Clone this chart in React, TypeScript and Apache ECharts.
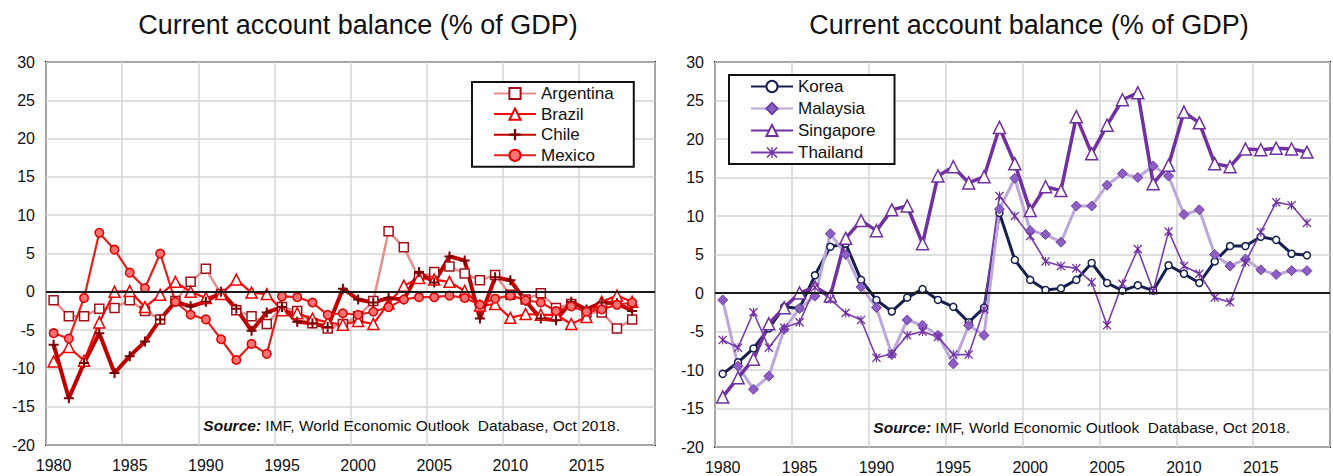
import React, { useEffect, useRef } from "react";
import * as echarts from "echarts";

// Categories (1980–2019; the last slot has no data, as in the reference axis)
const years = [
  "1980","1981","1982","1983","1984","1985","1986","1987","1988","1989",
  "1990","1991","1992","1993","1994","1995","1996","1997","1998","1999",
  "2000","2001","2002","2003","2004","2005","2006","2007","2008","2009",
  "2010","2011","2012","2013","2014","2015","2016","2017","2018","2019",
];

const titleText = "Current account balance (% of GDP)";
const sourceText = "{b|Source:} IMF, World Economic Outlook  Database, Oct 2018.";

// Left chart (Latin America), 1980–2018
const argentina = [
  -1.1, -3.2, -3.2, -2.2, -2.1, -1.1, -2.5, -3.6, -1.2, 1.3,
  3.0, -0.3, -2.4, -3.2, -4.2, -2.0, -2.5, -4.1, -4.8, -4.2,
  -3.2, -1.2, 7.9, 5.8, 1.8, 2.6, 3.3, 2.4, 1.5, 2.2,
  -0.4, -1.0, -0.2, -2.1, -1.6, -2.7, -2.7, -4.8, -3.6,
];
const brazil = [
  -9.1, -7.2, -9.0, -4.0, 0.0, 0.1, -2.0, -0.4, 1.3, 0.0,
  -0.8, -0.3, 1.6, -0.1, -0.3, -2.4, -2.8, -3.5, -4.0, -4.3,
  -3.8, -4.2, -1.5, 0.8, 1.8, 1.6, 1.3, 0.1, -1.8, -1.6,
  -3.4, -2.9, -3.0, -3.0, -4.2, -3.3, -1.3, -0.5, -1.3,
];
const chile = [
  -6.9, -13.9, -9.3, -5.4, -10.6, -8.4, -6.5, -3.6, -1.3, -1.9,
  -1.3, 0.0, -2.2, -5.1, -2.7, -2.0, -3.9, -4.1, -4.6, 0.4,
  -1.0, -1.4, -0.8, -1.0, 2.6, 1.2, 4.6, 4.1, -3.5, 1.9,
  1.5, -1.2, -3.5, -3.7, -1.3, -2.3, -1.4, -1.5, -2.5,
];
const mexico = [
  -5.4, -6.1, -0.8, 7.7, 5.5, 2.5, 0.5, 5.0, -1.3, -3.0,
  -3.6, -6.2, -8.9, -6.8, -8.1, -0.6, -0.7, -1.4, -3.0, -2.8,
  -3.0, -2.6, -2.0, -1.0, -0.7, -0.7, -0.5, -0.8, -1.7, -0.9,
  -0.5, -1.1, -1.4, -2.5, -1.9, -2.6, -2.3, -1.7, -1.4,
];

// Right chart (East Asia), 1980–2018
const korea = [
  -10.5, -9.0, -7.2, -4.6, -1.8, -2.0, 2.3, 6.0, 6.4, 1.7,
  -0.9, -2.4, -0.6, 0.5, -0.9, -1.8, -3.8, -1.9, 10.4, 4.3,
  1.7, 0.4, 0.6, 1.7, 3.9, 1.3, 0.3, 1.0, 0.3, 3.6,
  2.5, 1.3, 4.1, 6.1, 6.1, 7.3, 6.9, 5.1, 4.9,
];
const malaysia = [
  -0.9, -9.5, -12.5, -10.8, -4.7, -2.0, -0.4, 7.7, 5.0, 0.8,
  -1.9, -8.0, -3.5, -4.2, -5.5, -9.2, -4.2, -5.5, 10.9, 14.9,
  8.1, 7.6, 6.6, 11.3, 11.3, 14.0, 15.5, 15.0, 16.5, 15.2,
  10.2, 10.8, 5.0, 3.5, 4.4, 3.0, 2.4, 2.9, 2.9,
];
const singapore = [
  -13.5, -11.0, -8.6, -4.0, -1.9, 0.0, 0.8, -0.4, 7.1, 9.4,
  8.1, 10.8, 11.3, 6.4, 15.2, 16.4, 14.3, 15.1, 21.5, 16.8,
  10.7, 13.8, 13.3, 22.9, 18.1, 21.8, 25.1, 26.0, 14.2, 16.6,
  23.5, 22.1, 16.8, 16.4, 18.7, 18.6, 18.8, 18.7, 18.3,
];
const thailand = [
  -6.1, -7.1, -2.5, -7.1, -4.5, -3.8, 0.7, -0.8, -2.6, -3.5,
  -8.4, -7.9, -5.5, -5.0, -5.7, -8.0, -8.0, -2.1, 12.6, 10.0,
  7.4, 4.1, 3.5, 3.2, 1.4, -4.2, 1.2, 5.7, 0.3, 8.0,
  3.5, 2.5, -0.6, -1.2, 4.0, 7.9, 11.8, 11.4, 9.1,
];

const FONT = "'Liberation Sans', Arial, sans-serif";
const PLUS = "path://M4,0H6V4H10V6H6V10H4V6H0V4H4Z";
const STAR =
  "path://M0,1L1,0L5,4L9,0L10,1L6,5L10,9L9,10L5,6L1,10L0,9L4,5Z M4.4,0H5.6V10H4.4Z";

function line(
  name: string,
  data: number[],
  idx: number,
  color: string,
  width: number,
  symbol: string,
  symbolSize: number,
  fill: string,
  border: string,
  borderWidth: number,
  extra: any = {}
) {
  return {
    name,
    type: "line",
    data,
    xAxisIndex: idx,
    yAxisIndex: idx,
    symbol,
    symbolSize,
    showAllSymbol: true,
    lineStyle: { color, width },
    itemStyle: { color: fill, borderColor: border, borderWidth },
    emphasis: { disabled: true },
    ...extra,
  };
}

const zeroLine = {
  silent: true,
  symbol: ["none", "none"],
  label: { show: false },
  lineStyle: { color: "#1a1a1a", width: 2, type: "solid" },
  data: [{ yAxis: 0 }],
};

function xAxis(gridIndex: number) {
  return {
    type: "category",
    gridIndex,
    data: years,
    boundaryGap: true,
    axisLine: { show: false },
    axisTick: { show: false },
    axisLabel: { interval: 4, fontSize: 16, color: "#111", fontFamily: FONT, margin: 12 },
    splitLine: { show: true, interval: 4, lineStyle: { color: "#d4d4d4", width: 1.5 } },
  };
}

function yAxis(gridIndex: number) {
  return {
    type: "value",
    gridIndex,
    min: -20,
    max: 30,
    interval: 5,
    axisLine: { show: false },
    axisTick: { show: false },
    axisLabel: { fontSize: 16, color: "#111", fontFamily: FONT, margin: 11 },
    splitLine: { show: true, lineStyle: { color: "#d4d4d4", width: 1.5 } },
  };
}

export default function App() {
  const ref = useRef<HTMLDivElement>(null);
  useEffect(() => {
    if (!ref.current) return;
    const chart = echarts.init(ref.current, null, { renderer: "svg" });
    const legendCommon = {
      orient: "vertical",
      itemWidth: 42,
      itemHeight: 14,
      backgroundColor: "#fff",
      borderColor: "#111",
      borderWidth: 2,
      borderRadius: 0,
      textStyle: { fontSize: 17, color: "#111", fontFamily: FONT },
      selectedMode: false,
    };
    const srcRich = {
      fontSize: 15.5,
      color: "#111",
      fontFamily: FONT,
      fontWeight: "normal",
      rich: { b: { fontSize: 15.5, fontWeight: "bold", fontStyle: "italic", fontFamily: FONT, color: "#111" } },
    };
    chart.setOption({
      animation: false,
      backgroundColor: "#fff",
      title: [
        { text: titleText, left: 353, top: 6, textAlign: "center", textStyle: { fontSize: 27, fontWeight: "normal", color: "#111", fontFamily: FONT } },
        { text: titleText, left: 1024, top: 6, textAlign: "center", textStyle: { fontSize: 27, fontWeight: "normal", color: "#111", fontFamily: FONT } },
        { text: sourceText, left: 620, top: 417, textAlign: "right", padding: 0, textStyle: srcRich },
        { text: sourceText, left: 1290, top: 419, textAlign: "right", padding: 0, textStyle: srcRich },
      ],
      grid: [
        { left: 46, top: 62, width: 609, height: 383, show: true, borderColor: "#1a1a1a", borderWidth: 2, backgroundColor: "transparent" },
        { left: 715, top: 62, width: 615, height: 385, show: true, borderColor: "#1a1a1a", borderWidth: 2, backgroundColor: "transparent" },
      ],
      legend: [
        { ...legendCommon, data: ["Argentina", "Brazil", "Chile", "Mexico"], left: 472, top: 82, itemGap: 3.6, padding: [3, 20, 3, 21] },
        { ...legendCommon, data: ["Korea", "Malaysia", "Singapore", "Thailand"], left: 729, top: 75, itemGap: 5, padding: [3, 19, 3, 21] },
      ],
      xAxis: [xAxis(0), xAxis(1)],
      yAxis: [yAxis(0), yAxis(1)],
      series: [
        line("Argentina", argentina, 0, "#e58e8e", 2.5, "rect", 9, "#fff", "#a01018", 1.5, { markLine: zeroLine }),
        line("Brazil", brazil, 0, "#ff0a0a", 2.2, "triangle", 11, "#fff", "#f00000", 1.5),
        line("Chile", chile, 0, "#c00000", 4, PLUS, 10, "#7a0000", "#7a0000", 0),
        line("Mexico", mexico, 0, "#e3201c", 2.2, "circle", 8.5, "#ff7272", "#e00000", 1.5),
        line("Korea", korea, 1, "#16204f", 3, "circle", 7, "#fff", "#16204f", 1.5, { markLine: zeroLine }),
        line("Malaysia", malaysia, 1, "#bca6da", 3, "diamond", 10, "#8d5ec4", "#6c3ea4", 1),
        line("Singapore", singapore, 1, "#7030a0", 3.5, "triangle", 12, "#fff", "#7030a0", 1.5),
        line("Thailand", thailand, 1, "#7a3cae", 1.6, STAR, 9, "#7030a0", "#7030a0", 0),
      ],
    });
    return () => chart.dispose();
  }, []);
  return (
    <div
      ref={ref}
      style={{ position: "fixed", left: 0, top: 0, width: 1333, height: 476, background: "#fff" }}
    />
  );
}
